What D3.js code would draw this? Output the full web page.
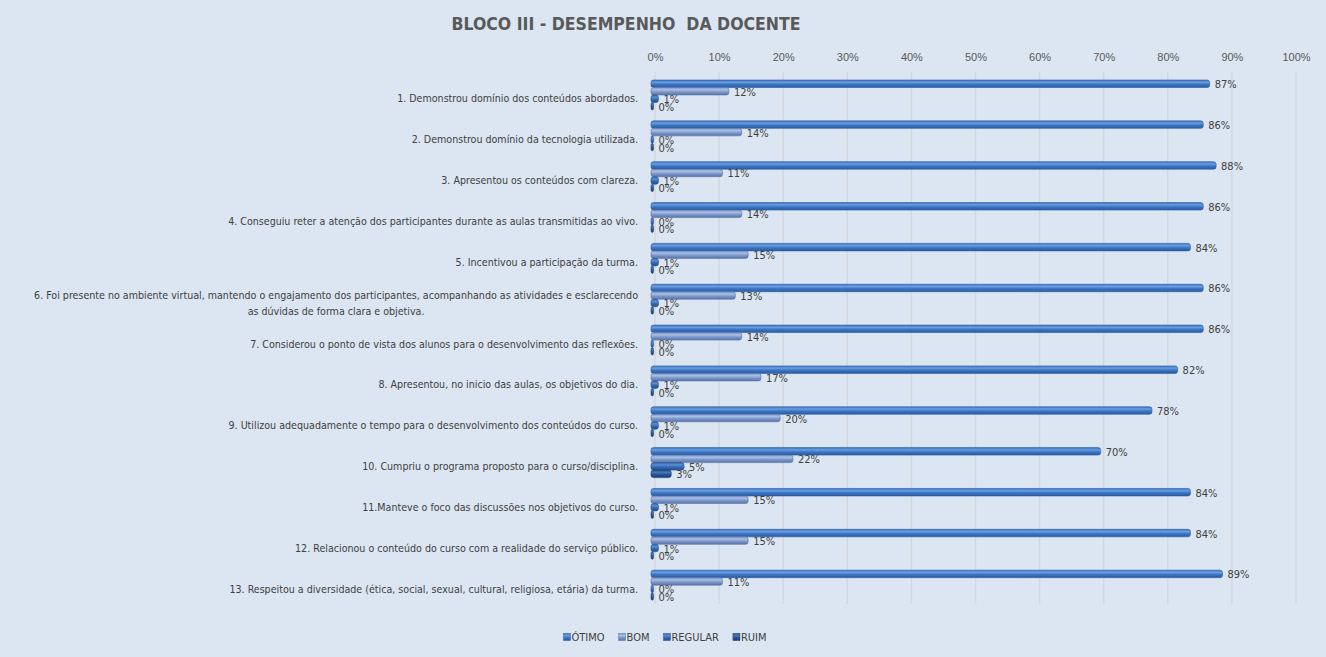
<!DOCTYPE html>
<html>
<head>
<meta charset="utf-8">
<script src="https://cdn.jsdelivr.net/npm/d3@7"></script>
<style>
  body { margin: 0; background: #dce6f2; }
  svg { display: block; font-family: "Liberation Sans Narrow", "DejaVu Sans Condensed", sans-serif; }
</style>
</head>
<body>
<svg></svg>
<script>

// -----------------------------
// DATA
// -----------------------------
let categories = [
  "1. Demonstrou domínio dos conteúdos abordados.",
  "2. Demonstrou domínio da tecnologia utilizada.",
  "3. Apresentou os conteúdos com clareza.",
  "4. Conseguiu reter a atenção dos participantes durante as aulas transmitidas ao vivo.",
  "5. Incentivou a participação da turma.",
  "6. Foi presente no ambiente virtual, mantendo o engajamento dos participantes, acompanhando as atividades e esclarecendo as dúvidas de forma clara e objetiva.",
  "7. Considerou o ponto de vista dos alunos para o desenvolvimento das reflexões.",
  "8. Apresentou, no inicio das aulas, os objetivos do dia.",
  "9. Utilizou adequadamente o tempo para o desenvolvimento dos conteúdos do curso.",
  "10. Cumpriu o programa proposto para o curso/disciplina.",
  "11.Manteve o foco das discussões nos objetivos do curso.",
  "12. Relacionou o conteúdo do curso com a realidade do serviço público.",
  "13. Respeitou a diversidade (ética, social, sexual, cultural, religiosa, etária) da turma."
];

let seriesNames = ["ÓTIMO", "BOM", "REGULAR", "RUIM"];

let otimo   = [87, 86, 88, 86, 84, 86, 86, 82, 78, 70, 84, 84, 89];
let bom     = [12, 14, 11, 14, 15, 13, 14, 17, 20, 22, 15, 15, 11];
let regular = [1, 0, 1, 0, 1, 1, 0, 1, 1, 5, 1, 1, 0];
let ruim    = [0, 0, 0, 0, 0, 0, 0, 0, 0, 3, 0, 0, 0];

let xTicks = [0, 10, 20, 30, 40, 50, 60, 70, 80, 90, 100];

let seriesValues = [otimo, bom, regular, ruim];

// -----------------------------
// SETUP
// -----------------------------
let width = 1326,
    height = 657;

let margin = { top: 78, bottom: 48, left: 652, right: 33 };

let svg = d3.select("svg")
            .attr("width", width)
            .attr("height", height);

// gradients for the cylinder look
let colors = [
  ["#6a9ee0", "#3b73c2", "#2b5c9f"],
  ["#aabfe4", "#7b97cb", "#5a74a6"],
  ["#5b8dd4", "#3468b3", "#24508c"],
  ["#4a77b5", "#275593", "#1a3d6c"]
];

let defs = svg.append("defs");
colors.forEach((c, i) => {
  let g = defs.append("linearGradient")
              .attr("id", "grad" + i)
              .attr("x1", 0).attr("y1", 0).attr("x2", 0).attr("y2", 1);
  g.append("stop").attr("offset", "0%").attr("stop-color", c[1]);
  g.append("stop").attr("offset", "30%").attr("stop-color", c[0]);
  g.append("stop").attr("offset", "60%").attr("stop-color", c[1]);
  g.append("stop").attr("offset", "100%").attr("stop-color", c[2]);
});

// -----------------------------
// SCALES
// -----------------------------
let xScale = d3.scaleLinear()
               .domain([0, 100])
               .range([margin.left, width - margin.right]);

let yScale = d3.scaleBand()
               .domain(categories)
               .range([margin.top, height - margin.bottom])
               .padding(0);

let ySeries = d3.scaleBand()
                .domain(seriesNames)
                .range([2, 32]);

// -----------------------------
// GRIDLINES + TOP AXIS
// -----------------------------
svg.append("g")
   .selectAll("line")
   .data(xTicks)
   .enter()
   .append("line")
   .attr("x1", d => xScale(d) + 3)
   .attr("x2", d => xScale(d) + 3)
   .attr("y1", 72)
   .attr("y2", 604)
   .attr("stroke", "#d3d8df")
   .attr("stroke-width", 1.5);

let xAxis = svg.append("g")
   .attr("transform", `translate(3, 64)`)
   .call(d3.axisTop(xScale).tickValues(xTicks).tickFormat(d => d + "%").tickSize(0));

xAxis.select(".domain").remove();
xAxis.selectAll("text")
     .attr("fill", "#595959")
     .style("font-size", "11px");

// -----------------------------
// TITLE
// -----------------------------
svg.append("text")
   .attr("x", 626)
   .attr("y", 30)
   .attr("text-anchor", "middle")
   .attr("fill", "#595959")
   .style("font-size", "17.5px")
   .style("font-weight", "bold")
   .style("white-space", "pre")
   .text("BLOCO III - DESEMPENHO  DA DOCENTE");

// -----------------------------
// CATEGORY LABELS (wrap long ones)
// -----------------------------
let labelRight = 638;
let maxLabel = 608;

categories.forEach(cat => {
  let cy = yScale(cat) + yScale.bandwidth() / 2;
  let t = svg.append("text")
             .attr("fill", "#404040")
             .style("font-size", "10.6px")
             .text(cat);

  if (t.node().getComputedTextLength() <= maxLabel) {
    t.attr("x", labelRight).attr("y", cy + 4).attr("text-anchor", "end");
    return;
  }

  // word wrap, lines centred on each other
  let words = cat.split(" ");
  let lines = [], line = [];
  words.forEach(w => {
    line.push(w);
    t.text(line.join(" "));
    if (t.node().getComputedTextLength() > maxLabel && line.length > 1) {
      line.pop();
      lines.push(line.join(" "));
      line = [w];
    }
  });
  lines.push(line.join(" "));

  t.text(lines[0]);
  let blockW = t.node().getComputedTextLength();
  let cx = labelRight - blockW / 2;
  t.text(null).attr("text-anchor", "middle");
  lines.forEach((l, i) => {
    t.append("tspan")
     .attr("x", cx)
     .attr("y", cy + 4 + (i - (lines.length - 1) / 2) * 16)
     .text(l);
  });
});

// -----------------------------
// BARS
// -----------------------------
let rows = [];
categories.forEach((cat, i) => {
  seriesNames.forEach((s, j) => {
    rows.push({ cat: cat, series: s, idx: j, value: seriesValues[j][i] });
  });
});

let barH = ySeries.bandwidth();

svg.append("g")
   .selectAll("rect")
   .data(rows)
   .enter()
   .append("rect")
   .attr("x", xScale(0) - 1)
   .attr("y", d => yScale(d.cat) + ySeries(d.series))
   .attr("width", d => Math.max(xScale(d.value) - xScale(0) + 1, 2.5))
   .attr("height", barH)
   .attr("rx", 2.5)
   .attr("fill", d => `url(#grad${d.idx})`)
   .attr("stroke", d => colors[d.idx][2])
   .attr("stroke-width", 0.6);

svg.append("g")
   .selectAll("text")
   .data(rows)
   .enter()
   .append("text")
   .attr("x", d => Math.max(xScale(d.value), xScale(0) + 1.5) + 5)
   .attr("y", d => yScale(d.cat) + ySeries(d.series) + barH / 2 + 4.5)
   .attr("fill", "#404040")
   .style("font-size", "11px")
   .text(d => d.value + "%");

// -----------------------------
// LEGEND
// -----------------------------
let legend = svg.append("g");
let lx = 0;
seriesNames.forEach((s, i) => {
  let item = legend.append("g").attr("transform", `translate(${lx}, 0)`);
  item.append("rect")
      .attr("x", 0).attr("y", -3.5)
      .attr("width", 7).attr("height", 7)
      .attr("fill", `url(#grad${i})`)
      .attr("stroke", colors[i][2])
      .attr("stroke-width", 0.5);
  let t = item.append("text")
              .attr("x", 8).attr("y", 4)
              .attr("fill", "#404040")
              .style("font-size", "11px")
              .text(s);
  lx += 8 + t.node().getComputedTextLength() + 14;
});
lx -= 14;
legend.attr("transform", `translate(${665 - lx / 2}, 637)`);

</script>
</body>
</html>
